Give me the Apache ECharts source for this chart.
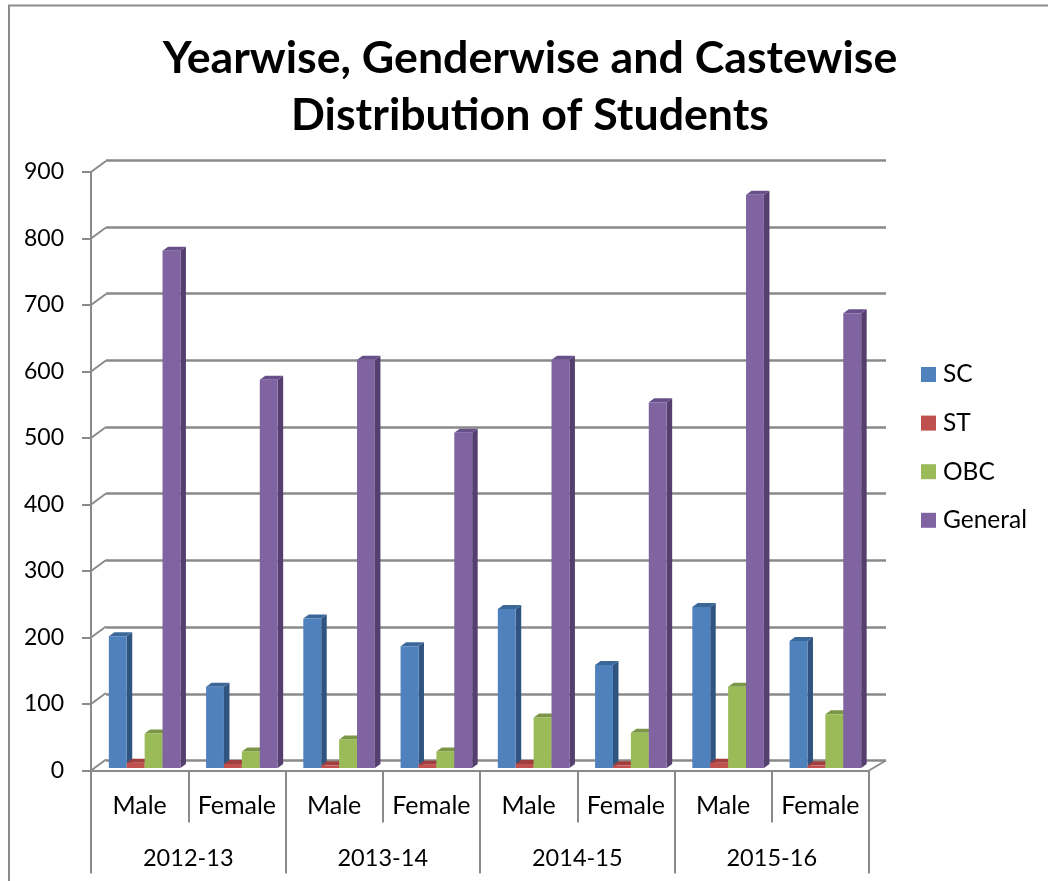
<!DOCTYPE html>
<html>
<head>
<meta charset="utf-8">
<title>Distribution of Students</title>
<script src="https://cdn.jsdelivr.net/npm/echarts@6/dist/echarts.min.js"></script>
<style>
html, body { margin: 0; padding: 0; background: #fff; }
#main { width: 1048px; height: 881px; }
</style>
</head>
<body>
<div id="main"></div>
<script>
var genders = ['Male', 'Female', 'Male', 'Female', 'Male', 'Female', 'Male', 'Female'];
var years = ['2012-13', '2013-14', '2014-15', '2015-16'];
var seriesNames = ['SC', 'ST', 'OBC', 'General'];
var sc = [198, 122, 225, 183, 239, 155, 242, 191];
var st = [8, 6, 4, 5, 6, 4, 8, 4];
var obc = [52, 25, 43, 25, 76, 53, 122, 81];
var general = [778, 584, 614, 504, 614, 550, 862, 684];
var yTicks = [0, 100, 200, 300, 400, 500, 600, 700, 800, 900];

var fontName = 'Lato';
var gridColor = '#8a8a8a';

// face, side, top colours of the fake 3d bars
var barColors = [
    ['#4f81bd', '#2f5480', '#3c6899'],
    ['#c0504d', '#8a3533', '#a03f3d'],
    ['#9bbb59', '#6f873c', '#7b9647'],
    ['#8064a2', '#553f6e', '#67508a']
];

var barWidth = 17.9;
var depthX = 5.5;
var depthY = 4;
var planeX = 5;    // bars stand a little behind the front edge of the floor
var planeY = -2.5;

function barRender(seriesIndex) {
    return function (params, api) {
        var top = api.coord([api.value(0), api.value(1)]);
        var base = api.coord([api.value(0), 0]);
        var x0 = top[0] + planeX + (seriesIndex - 2) * barWidth;
        var x1 = x0 + barWidth;
        var y0 = top[1] + planeY;
        var y1 = base[1] + planeY;
        var c = barColors[seriesIndex];
        return {
            type: 'group',
            children: [
                {
                    type: 'polygon',
                    shape: { points: [[x1, y0], [x1 + depthX, y0 - depthY], [x1 + depthX, y1 - depthY], [x1, y1]] },
                    style: { fill: c[1] }
                },
                {
                    type: 'polygon',
                    shape: { points: [[x0, y0], [x0 + depthX, y0 - depthY], [x1 + depthX, y0 - depthY], [x1, y0]] },
                    style: { fill: c[2] }
                },
                {
                    type: 'rect',
                    shape: { x: x0, y: y0, width: barWidth, height: y1 - y0 },
                    style: { fill: c[0] }
                }
            ]
        };
    };
}

function barSeries(idx, values) {
    return {
        name: seriesNames[idx],
        type: 'custom',
        xAxisIndex: 0,
        yAxisIndex: 0,
        z: 5,
        itemStyle: { color: barColors[idx][0] },
        encode: { x: 0, y: 1 },
        data: values.map(function (v, i) { return [i, v]; }),
        renderItem: barRender(idx)
    };
}

// slanted lines joining the front axis to the back wall
function wallRender(params, api) {
    var value = api.value(1);
    var p = api.coord([0, value]);
    var left = p[0] - api.size([1, 0])[0] / 2;
    var children = [{
        type: 'line',
        shape: { x1: left, y1: p[1], x2: left + 15, y2: p[1] - 11 },
        style: { stroke: gridColor, lineWidth: 2 }
    }];
    if (value === 0) {
        var r = left + api.size([1, 0])[0] * genders.length;
        children.push({
            type: 'line',
            shape: { x1: r, y1: p[1], x2: r + 17, y2: p[1] - 10 },
            style: { stroke: gridColor, lineWidth: 2 }
        });
    }
    return { type: 'group', children: children };
}

var myChart = echarts.init(document.getElementById('main'));

var option = {
    backgroundColor: '#fff',
    animation: false,
    textStyle: { fontFamily: fontName },
    title: {
        text: 'Yearwise, Genderwise and Castewise\nDistribution of Students',
        left: 525,
        top: 25,
        textAlign: 'center',
        textStyle: { fontFamily: fontName, fontWeight: 'bold', fontSize: 44.7, lineHeight: 57, color: '#000' }
    },
    legend: {
        orient: 'vertical',
        left: 921,
        top: 362,
        padding: 0,
        itemWidth: 15,
        itemHeight: 15,
        itemGap: 23.6,
        icon: 'rect',
        data: seriesNames,
        textStyle: { fontFamily: fontName, fontSize: 24.5, color: '#000', padding: [0, 0, 0, 2] }
    },
    grid: [
        { left: 91, right: 179, top: 172, bottom: 110.5 },
        { left: 106, right: 162, top: 160.3, bottom: 120.5 }
    ],
    xAxis: [
        {
            type: 'category',
            gridIndex: 0,
            data: genders,
            position: 'bottom',
            axisLine: { lineStyle: { color: gridColor, width: 2 } },
            axisTick: { show: true, length: 52, interval: 0, lineStyle: { color: gridColor, width: 2 } },
            axisLabel: { interval: 0, margin: 23, fontSize: 25, color: '#000', fontFamily: fontName }
        },
        {
            type: 'category',
            gridIndex: 0,
            data: years,
            position: 'bottom',
            axisLine: { show: false },
            axisTick: { show: true, length: 103, interval: 0, lineStyle: { color: gridColor, width: 2 } },
            axisLabel: { interval: 0, margin: 76, fontSize: 23.5, color: '#000', fontFamily: fontName }
        },
        {
            type: 'category',
            gridIndex: 1,
            data: genders,
            show: false
        }
    ],
    yAxis: [
        {
            type: 'value',
            gridIndex: 0,
            min: 0,
            max: 900,
            interval: 100,
            axisLine: { show: true, lineStyle: { color: gridColor, width: 2 } },
            axisTick: { show: true, length: 9, lineStyle: { color: gridColor, width: 2 } },
            axisLabel: { margin: 27, fontSize: 23, color: '#000', fontFamily: fontName },
            splitLine: { show: false }
        },
        {
            type: 'value',
            gridIndex: 1,
            min: 0,
            max: 900,
            interval: 100,
            axisLine: { show: false },
            axisTick: { show: false },
            axisLabel: { show: false },
            splitLine: { show: true, lineStyle: { color: gridColor, width: 2.5 } }
        }
    ],
    graphic: [
        {
            type: 'polyline',
            silent: true,
            shape: { points: [[9, 881], [9, 5.5], [1048, 5.5]] },
            style: { stroke: '#8c8c8c', lineWidth: 2, fill: null }
        }
    ],
    series: [
        {
            type: 'custom',
            xAxisIndex: 0,
            yAxisIndex: 0,
            z: 1,
            silent: true,
            encode: { x: 0, y: 1 },
            data: yTicks.map(function (v) { return [0, v]; }),
            renderItem: wallRender
        },
        barSeries(0, sc),
        barSeries(1, st),
        barSeries(2, obc),
        barSeries(3, general)
    ]
};

myChart.setOption(option);
</script>
</body>
</html>
